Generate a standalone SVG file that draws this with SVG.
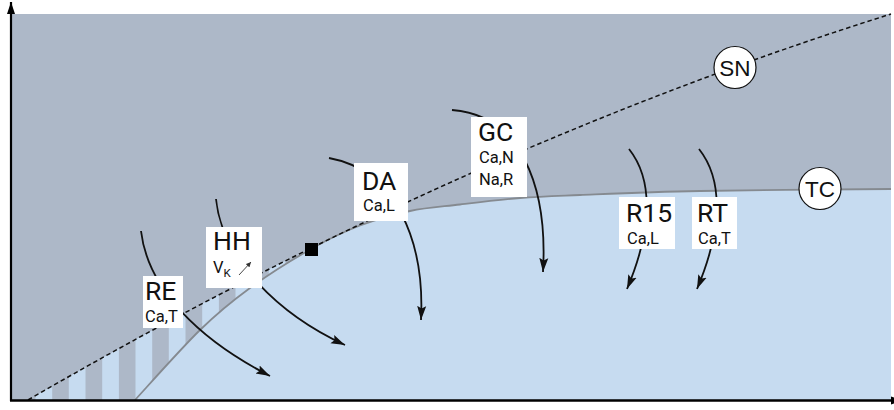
<svg xmlns="http://www.w3.org/2000/svg" width="894" height="410" viewBox="0 0 894 410">
<style>
.big{font-family:Roboto,"Liberation Sans",sans-serif;font-size:26.5px;fill:#111}
.sm{font-family:Roboto,"Liberation Sans",sans-serif;font-size:16.5px;fill:#111}
.cl{font-family:"Liberation Sans",Arial,sans-serif;font-size:22.5px;fill:#111;text-anchor:middle}
.box{fill:#fff}
.circ{fill:#fff;stroke:#111;stroke-width:1.2}
.arr{fill:none;stroke:#111;stroke-width:1.8;marker-end:url(#ah)}
</style>
<defs>
<marker id="ah" markerUnits="userSpaceOnUse" markerWidth="15" markerHeight="11" refX="14" refY="5.5" orient="auto"><path d="M0,1 L14,5.5 L0,10 L2.5,5.5 Z" fill="#111"/></marker>
<marker id="sah" markerUnits="userSpaceOnUse" markerWidth="6" markerHeight="5" refX="5" refY="2.5" orient="auto"><path d="M0,0 L5,2.5 L0,5 Z" fill="#333"/></marker>
<marker id="axh" markerUnits="userSpaceOnUse" markerWidth="14" markerHeight="10" refX="12" refY="5" orient="auto"><path d="M0,1 L12,5 L0,9 Z" fill="#000"/></marker>
<clipPath id="below"><path d="M28,400 Q459.5,149.7 891,14 L891,400 Z"/></clipPath>
</defs>
<g id="background">
<rect x="11" y="14" width="880" height="387" fill="#adb8c8"/>
<g clip-path="url(#below)" fill="#c6dbf0">
<rect x="35.5" y="200" width="16.7" height="201"/>
<rect x="68.8" y="200" width="16.7" height="201"/>
<rect x="102.2" y="200" width="16.7" height="201"/>
<rect x="135.5" y="200" width="16.7" height="201"/>
<rect x="168.8" y="200" width="16.7" height="201"/>
<rect x="202.2" y="200" width="16.7" height="201"/>
<rect x="235.5" y="200" width="16.7" height="201"/>
<rect x="268.8" y="200" width="16.7" height="201"/>
<rect x="302.2" y="200" width="8.8" height="201"/>
</g>
<path d="M135,400 C145.8,388.3 180.8,348.7 200,330 C219.2,311.3 231.5,301.5 250,288 C268.5,274.5 292.7,259.4 311,249 C329.3,238.6 343.5,231.8 360,225.5 C376.5,219.2 393.3,214.5 410,211 C426.7,207.5 441.7,206.7 460,204.5 C478.3,202.3 500,199.6 520,198 C540,196.4 550,196.2 580,195 C610,193.8 648.2,192 700,191 C751.8,190 859.2,189.3 891,189 L891,401 L135,401 Z" fill="#c6dbf0"/>
</g>
<g id="curves">
<path id="tc-curve" d="M135,400 C145.8,388.3 180.8,348.7 200,330 C219.2,311.3 231.5,301.5 250,288 C268.5,274.5 292.7,259.4 311,249 C329.3,238.6 343.5,231.8 360,225.5 C376.5,219.2 393.3,214.5 410,211 C426.7,207.5 441.7,206.7 460,204.5 C478.3,202.3 500,199.6 520,198 C540,196.4 550,196.2 580,195 C610,193.8 648.2,192 700,191 C751.8,190 859.2,189.3 891,189" fill="none" stroke="#858a90" stroke-width="1.8"/>
<path id="sn-curve" d="M28,400 Q459.5,149.7 891,14" fill="none" stroke="#111" stroke-width="1.5" stroke-dasharray="4.5 3"/>
</g>
<g id="connectors">
<path class="arr" d="M141,231 C148,290 200,340 270,376"/>
<path class="arr" d="M216,199 C222,260 280,315 345,345"/>
<path class="arr" d="M329,158 C395,170 425,240 421,320"/>
<path class="arr" d="M452,110 C520,115 548,185 543,272"/>
<path class="arr" d="M629,149 C652,178 654,225 627,289"/>
<path class="arr" d="M699,149 C722,178 724,225 697,289"/>
</g>
<g id="RE">
<rect class="box" x="143" y="276" width="40" height="52"/>
<text class="big" x="145" y="300">RE</text>
<text class="sm" x="145" y="322">Ca,T</text>
</g>
<g id="HH">
<rect class="box" x="206" y="227" width="56" height="61"/>
<text class="big" x="213" y="250">HH</text>
<text class="sm" x="213" y="273">V<tspan font-size="11.5" dy="4">K</tspan></text>
<line x1="239" y1="275" x2="251" y2="262" stroke="#333" stroke-width="0.9" marker-end="url(#sah)"/>
</g>
<g id="DA">
<rect class="box" x="354" y="163" width="54" height="58"/>
<text class="big" x="362" y="190">DA</text>
<text class="sm" x="363" y="211">Ca,L</text>
</g>
<g id="GC">
<rect class="box" x="471" y="117" width="56" height="80"/>
<text class="big" x="478" y="141">GC</text>
<text class="sm" x="479" y="163">Ca,N</text>
<text class="sm" x="479" y="185">Na,R</text>
</g>
<g id="R15">
<rect class="box" x="619" y="197" width="56" height="52"/>
<text class="big" x="626" y="222">R15</text>
<text class="sm" x="627" y="244">Ca,L</text>
</g>
<g id="RT">
<rect class="box" x="692" y="197" width="45" height="52"/>
<text class="big" x="697" y="222">RT</text>
<text class="sm" x="698" y="244">Ca,T</text>
</g>
<g id="SN">
<circle class="circ" cx="735" cy="67.5" r="21"/>
<text class="cl" x="735" y="75.5">SN</text>
</g>
<g id="TC">
<circle class="circ" cx="820" cy="188.5" r="21"/>
<text class="cl" x="820" y="196.5">TC</text>
</g>
<g id="BT">
<rect x="305" y="243" width="13" height="13" fill="#000"/>
</g>
<g id="axes">
<line x1="11" y1="401" x2="11" y2="2" stroke="#000" stroke-width="2.2" marker-end="url(#axh)"/>
<line x1="10" y1="400.5" x2="903" y2="400.5" stroke="#000" stroke-width="2.6" marker-end="url(#axh)"/>
</g>
</svg>
